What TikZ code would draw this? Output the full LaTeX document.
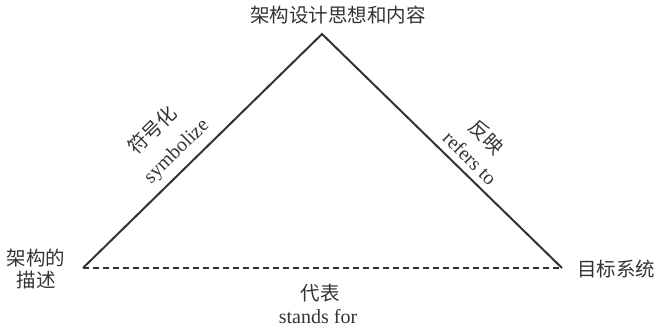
\documentclass[tikz,border=0pt]{standalone}
\usepackage{fontspec}
\setmainfont{Liberation Serif}
\newfontfamily\cjk{Noto Sans CJK SC}
\begin{document}
\begin{tikzpicture}[x=1pt,y=-1pt,
  edge/.style={draw=black!80,line width=2pt},
  dashedge/.style={draw=black!80,line width=2pt,dash pattern=on 6pt off 4pt},
  zh/.style={font=\cjk\fontsize{19.5}{22}\selectfont,text=black!80,inner sep=0pt},
  en/.style={font=\fontsize{20}{22}\selectfont,text=black!80,inner sep=0pt}]
\useasboundingbox (0,0) rectangle (656,327);
\coordinate (top) at (322,34);
\coordinate (L) at (83,268);
\coordinate (R) at (562,268);
\draw[edge,line join=miter] (L) -- (top) -- (R);
\draw[dashedge] (L) -- (R);
\node[zh] (ttop) at (338,15) {架构设计思想和内容};
\node[zh,align=center] (tl) at (36,269) {架构的\\描述};
\node[zh,anchor=west] (tr) at (577,269) {目标系统};
\node[zh] (b1) at (320,293) {代表};
\node[en] (b2) at (318,317) {stands for};
\node[zh,rotate=44.5] (l1) at (152,130) {符号化};
\node[en,rotate=44.5] (l2) at (177,152) {symbolize};
\node[zh,rotate=-44.5] (r1) at (487,137) {反映};
\node[en,rotate=-44.5] (r2) at (470,158) {refers to};
\end{tikzpicture}
\end{document}
